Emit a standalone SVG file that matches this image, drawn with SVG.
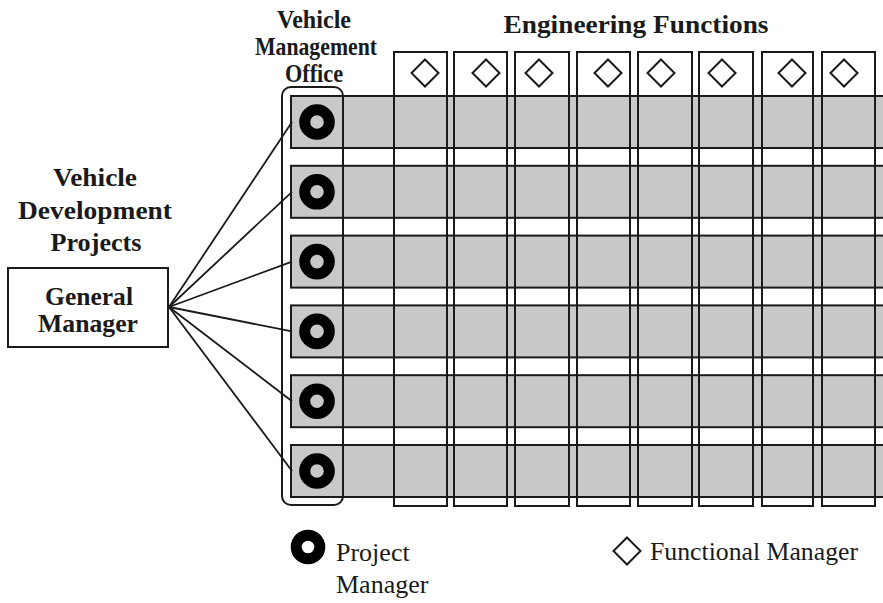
<svg xmlns="http://www.w3.org/2000/svg" width="883" height="603" viewBox="0 0 883 603">
  <style>
    .bold { font-family: "Liberation Serif", "Times New Roman", serif; font-weight: bold; font-size: 25px; fill: #1a1a1a; text-anchor: middle; }
    .reg { font-family: "Liberation Serif", "Times New Roman", serif; font-size: 26px; fill: #1a1a1a; }
    .bar { fill: #c8c8c8; stroke: #1a1a1a; stroke-width: 2; }
    .col { fill: none; stroke: #1a1a1a; stroke-width: 2; }
    .ring { fill: none; stroke: #000; stroke-width: 11; }
    .dia { fill: #fff; stroke: #1a1a1a; stroke-width: 2; }
    .link { stroke: #1a1a1a; stroke-width: 1.8; fill: none; }
  </style>
  <defs>
    <polygon id="diamond" points="0,-13.5 13.5,0 0,13.5 -13.5,0"/>
  </defs>
  <rect width="883" height="603" fill="#fff"/>

  <!-- project rows -->
  <g id="projects">
    <rect class="bar" x="291" y="96" width="600" height="52"/>
    <rect class="bar" x="291" y="165.8" width="600" height="52"/>
    <rect class="bar" x="291" y="235.6" width="600" height="52"/>
    <rect class="bar" x="291" y="305.4" width="600" height="52"/>
    <rect class="bar" x="291" y="375.2" width="600" height="52"/>
    <rect class="bar" x="291" y="445" width="600" height="52"/>
  </g>

  <!-- vehicle management office -->
  <g id="vmo">
    <rect x="282" y="87" width="61" height="418" rx="9" fill="none" stroke="#1a1a1a" stroke-width="2"/>
    <text class="bold" x="314" y="28" font-size="22" textLength="74" lengthAdjust="spacingAndGlyphs">Vehicle</text>
    <text class="bold" x="316" y="55" font-size="22" textLength="122" lengthAdjust="spacingAndGlyphs">Management</text>
    <text class="bold" x="314" y="82" font-size="22" textLength="58" lengthAdjust="spacingAndGlyphs">Office</text>
  </g>

  <!-- engineering function columns -->
  <g id="functions">
    <rect class="col" x="394" y="52" width="53" height="454"/>
    <rect class="col" x="454" y="52" width="53" height="454"/>
    <rect class="col" x="515" y="52" width="54" height="454"/>
    <rect class="col" x="577" y="52" width="53" height="454"/>
    <rect class="col" x="638" y="52" width="54" height="454"/>
    <rect class="col" x="699" y="52" width="54" height="454"/>
    <rect class="col" x="762" y="52" width="51" height="454"/>
    <rect class="col" x="822" y="52" width="53" height="454"/>
    <use href="#diamond" class="dia" x="425" y="73"/>
    <use href="#diamond" class="dia" x="486" y="73"/>
    <use href="#diamond" class="dia" x="539" y="73"/>
    <use href="#diamond" class="dia" x="608" y="73"/>
    <use href="#diamond" class="dia" x="661" y="73"/>
    <use href="#diamond" class="dia" x="722" y="73"/>
    <use href="#diamond" class="dia" x="792" y="73"/>
    <use href="#diamond" class="dia" x="844" y="73"/>
    <text class="bold" x="636" y="33" font-size="26" textLength="265" lengthAdjust="spacingAndGlyphs">Engineering Functions</text>
  </g>

  <!-- project managers -->
  <g id="managers">
    <circle class="ring" cx="317" cy="122" r="12.3"/>
    <circle class="ring" cx="317" cy="191.8" r="12.3"/>
    <circle class="ring" cx="317" cy="261.6" r="12.3"/>
    <circle class="ring" cx="317" cy="331.4" r="12.3"/>
    <circle class="ring" cx="317" cy="401.2" r="12.3"/>
    <circle class="ring" cx="317" cy="471" r="12.3"/>
  </g>

  <!-- reporting lines -->
  <g id="connectors">
    <line class="link" x1="169" y1="307" x2="292" y2="122"/>
    <line class="link" x1="169" y1="307" x2="292" y2="191.8"/>
    <line class="link" x1="169" y1="307" x2="292" y2="261.6"/>
    <line class="link" x1="169" y1="307" x2="292" y2="331.4"/>
    <line class="link" x1="169" y1="307" x2="292" y2="401.2"/>
    <line class="link" x1="169" y1="307" x2="292" y2="471"/>
  </g>

  <!-- general manager -->
  <g id="general-manager">
    <text class="bold" x="95" y="186" font-size="27" textLength="84" lengthAdjust="spacingAndGlyphs">Vehicle</text>
    <text class="bold" x="95" y="219" font-size="27" textLength="154" lengthAdjust="spacingAndGlyphs">Development</text>
    <text class="bold" x="96" y="251" font-size="27" textLength="91" lengthAdjust="spacingAndGlyphs">Projects</text>
    <rect x="8" y="268" width="160" height="79" fill="#fff" stroke="#1a1a1a" stroke-width="2"/>
    <text class="bold" x="89" y="305" font-size="26" textLength="88" lengthAdjust="spacingAndGlyphs">General</text>
    <text class="bold" x="88" y="332" font-size="26" textLength="100" lengthAdjust="spacingAndGlyphs">Manager</text>
  </g>

  <!-- legend -->
  <g id="legend">
    <circle class="ring" cx="308" cy="547" r="11.8"/>
    <text class="reg" x="336" y="561">Project</text>
    <text class="reg" x="336" y="593">Manager</text>
    <use href="#diamond" class="dia" x="627" y="551"/>
    <text class="reg" x="650" y="560" textLength="208" lengthAdjust="spacingAndGlyphs">Functional Manager</text>
  </g>
</svg>
